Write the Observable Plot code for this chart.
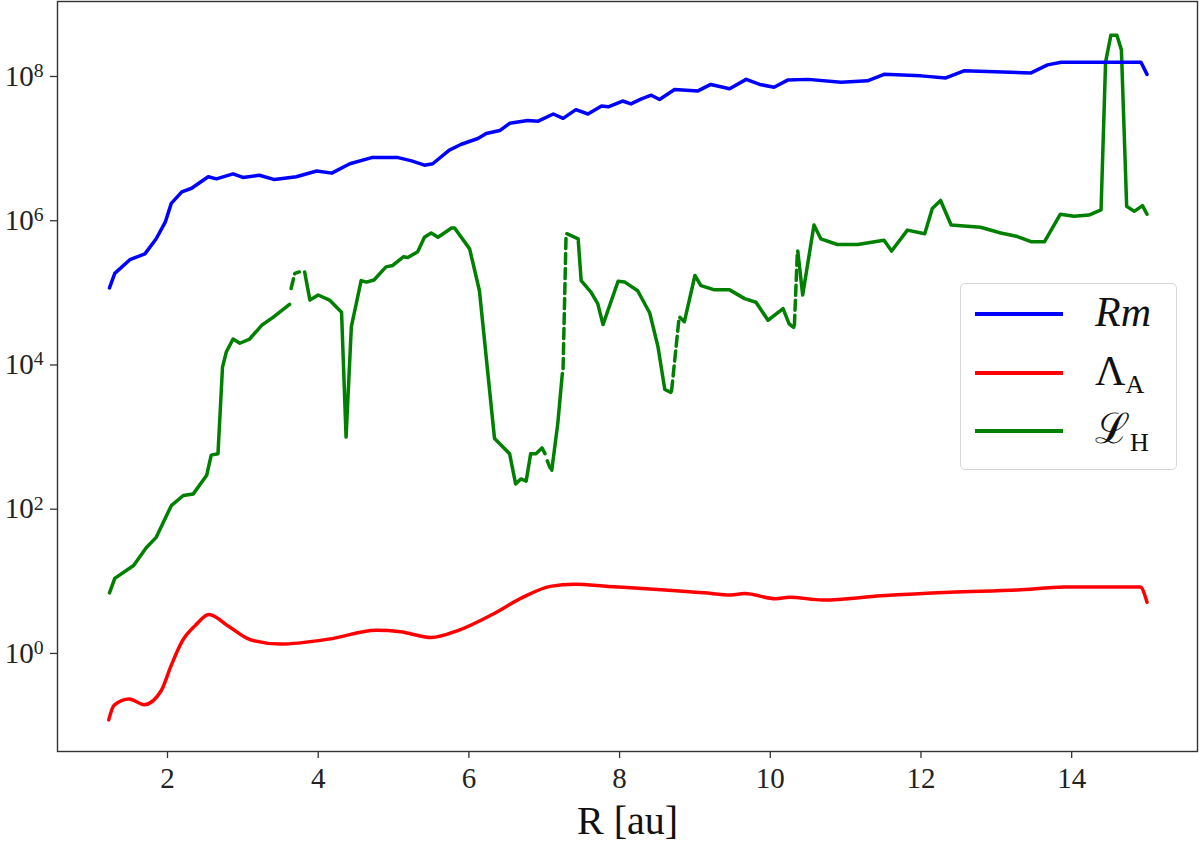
<!DOCTYPE html>
<html><head><meta charset="utf-8">
<script src="https://cdn.jsdelivr.net/npm/d3@7"></script>
<script src="https://cdn.jsdelivr.net/npm/@observablehq/plot@0.6"></script>
<style>
body{margin:0;background:#fff;}
#wrap{position:relative;width:1200px;height:845px;font-family:"Liberation Serif",serif;}
#legend{position:absolute;left:960px;top:283px;width:217px;height:187px;border:1px solid #d6d6d6;border-radius:5px;background:rgba(255,255,255,0.8);box-sizing:border-box;}
.row{position:absolute;left:0;width:100%;height:0;}
.sw{position:absolute;left:14px;width:88px;height:3.5px;top:-1.75px;}
.lab{position:absolute;left:134px;top:0;transform:translateY(-55%);font-size:42px;line-height:1;white-space:nowrap;color:#111;}
.lab sub{font-size:0.62em;vertical-align:baseline;position:relative;top:0.32em;}
</style></head>
<body><div id="wrap"><div id="chart"></div>
<div id="legend">
 <div class="row" style="top:30px"><div class="sw" style="background:#0000ff"></div><div class="lab"><i>Rm</i></div></div>
 <div class="row" style="top:89px"><div class="sw" style="background:#ff0000"></div><div class="lab">Λ<sub>A</sub></div></div>
 <div class="row" style="top:147px"><div class="sw" style="background:#008000"></div><div class="lab">ℒ<sub>H</sub></div></div>
</div></div>
<script>
// Rm
const rmR = [1.23,1.30,1.50,1.70,1.85,1.97,2.05,2.19,2.32,2.54,2.65,2.87,3.00,3.22,3.42,3.71,3.98,4.18,4.42,4.71,5.06,5.24,5.41,5.52,5.74,5.90,6.12,6.23,6.41,6.54,6.78,6.92,7.12,7.25,7.42,7.58,7.76,7.85,8.04,8.15,8.29,8.42,8.53,8.73,9.04,9.21,9.46,9.68,9.86,10.05,10.23,10.50,10.94,11.29,11.51,12.0,12.33,12.57,13.46,13.68,13.86,14.92,15.0];
const rmV = [1.17e5,1.86e5,2.88e5,3.47e5,5.62e5,9.55e5,1.74e6,2.51e6,2.82e6,4.07e6,3.80e6,4.47e6,3.98e6,4.27e6,3.72e6,4.07e6,4.90e6,4.57e6,6.17e6,7.50e6,7.50e6,6.76e6,5.89e6,6.17e6,9.55e6,1.15e7,1.38e7,1.62e7,1.78e7,2.24e7,2.45e7,2.40e7,3.02e7,2.63e7,3.47e7,3.02e7,3.89e7,3.80e7,4.57e7,4.17e7,4.90e7,5.50e7,4.79e7,6.61e7,6.31e7,7.76e7,6.76e7,9.12e7,7.76e7,7.08e7,8.91e7,9.12e7,8.32e7,8.71e7,1.07e8,1.02e8,9.55e7,1.20e8,1.12e8,1.45e8,1.58e8,1.58e8,1.07e8];
// Lambda_A
const laR = [1.22,1.29,1.49,1.69,1.92,2.04,2.19,2.37,2.55,2.82,3.10,3.50,4.14,4.77,5.09,5.50,5.86,6.31,6.72,7.08,7.40,7.85,8.30,8.75,9.12,9.48,9.66,10.07,10.25,10.70,11.47,12.38,13.28,13.91,14.91,15.0];
const laV = [0.120,0.191,0.234,0.195,0.309,0.646,1.45,2.45,3.47,2.34,1.55,1.35,1.58,2.09,2.00,1.66,2.09,3.47,6.03,8.51,9.12,8.51,7.94,7.41,6.92,6.46,6.76,5.75,6.03,5.50,6.31,7.08,7.59,8.32,8.32,5.13];
// L_H (magnitude) and its sign (negative parts drawn dashed)
const lhR = [1.23,1.30,1.55,1.72,1.85,2.05,2.21,2.34,2.52,2.58,2.67,2.73,2.78,2.87,2.96,3.09,3.25,3.40,3.62,3.64,3.69,3.75,3.82,3.89,4.00,4.15,4.31,4.37,4.44,4.57,4.64,4.74,4.90,4.99,5.13,5.19,5.32,5.41,5.50,5.59,5.77,5.81,6.01,6.14,6.34,6.54,6.62,6.69,6.76,6.82,6.89,6.97,7.01,7.04,7.08,7.10,7.18,7.24,7.25,7.29,7.30,7.45,7.49,7.62,7.71,7.78,7.98,8.07,8.24,8.40,8.51,8.60,8.68,8.69,8.79,8.80,8.86,9.00,9.08,9.26,9.46,9.66,9.81,9.97,10.17,10.25,10.31,10.32,10.36,10.365,10.43,10.58,10.67,10.89,11.16,11.51,11.61,11.82,12.05,12.15,12.26,12.40,12.79,13.06,13.28,13.46,13.64,13.85,14.03,14.23,14.39,14.45,14.52,14.60,14.66,14.73,14.83,14.94,15.0];
const lhV = [6.92,11.0,16.6,29.5,40.7,112,155,162,295,562,589,9.33e3,1.51e4,2.29e4,2.00e4,2.29e4,3.55e4,4.57e4,6.92e4,1.15e5,1.86e5,1.95e5,1.95e5,7.94e4,9.33e4,7.94e4,5.37e4,1.00e3,3.39e4,1.48e5,1.41e5,1.51e5,2.29e5,2.40e5,3.16e5,3.09e5,3.72e5,5.89e5,6.76e5,5.89e5,7.94e5,7.94e5,4.07e5,1.07e5,955,589,224,263,245,589,589,708,589,468,372,347,1.55e3,7.59e3,8.91e3,6.61e5,6.61e5,5.62e5,1.48e5,1.02e5,7.08e4,3.63e4,1.45e5,1.41e5,1.07e5,5.25e4,1.78e4,4.57e3,4.17e3,4.37e3,4.57e4,4.57e4,3.98e4,1.74e5,1.26e5,1.10e5,1.10e5,8.32e4,7.41e4,4.17e4,6.03e4,3.72e4,3.31e4,3.55e4,3.80e5,3.80e5,9.33e4,8.71e5,5.62e5,4.68e5,4.68e5,5.37e5,3.80e5,7.41e5,6.61e5,1.48e6,1.91e6,8.71e5,8.13e5,6.76e5,6.03e5,5.13e5,5.13e5,1.23e6,1.15e6,1.20e6,1.41e6,1.58e8,3.72e8,3.72e8,2.34e8,1.58e6,1.35e6,1.62e6,1.23e6];
const lhSign = [1,1,1,1,1,1,1,1,1,1,1,1,1,1,1,1,1,1,1,-1,-1,-1,1,1,1,1,1,1,1,1,1,1,1,1,1,1,1,1,1,1,1,1,1,1,1,1,1,1,1,1,1,1,1,-1,-1,1,1,1,-1,-1,1,1,1,1,1,1,1,1,1,1,1,1,1,-1,-1,1,1,1,1,1,1,1,1,1,1,1,1,-1,-1,1,1,1,1,1,1,1,1,1,1,1,1,1,1,1,1,1,1,1,1,1,1,1,1,1,1,1,1,1,1];
const xTicks = [2,4,6,8,10,12,14];
const yTicks = [1,1e2,1e4,1e6,1e8];

const rmRows = rmR.map((r,i)=>({r, v:rmV[i]}));
const laRows = laR.map((r,i)=>({r, v:laV[i]}));
// runs of same-sign consecutive points (matplotlib-like masking)
function runs(sign){
  const out=[]; let id=0;
  for (let i=0;i<lhR.length;i++){
    if (lhSign[i]===sign){
      const linked = i>0 && lhSign[i-1]===sign;
      if (!linked) id++;
      out.push({r:lhR[i], v:lhV[i], z:id});
    }
  }
  return out;
}
const solidG = runs(1), dashG = runs(-1);

const font = '"Liberation Serif", serif';
const chart = Plot.plot({
  width: 1200, height: 845,
  marginLeft: 57, marginRight: 3, marginTop: 1, marginBottom: 94,
  style: {fontFamily: font, fontSize: "29px", background: "#fff", color: "#222"},
  x: {domain: [0.54, 15.67]},
  y: {type: "log", domain: [0.0437, 1.096e9]},
  marks: [
    Plot.axisX({ticks: xTicks, tickSize: 7, tickPadding: 9, label: null, fontSize: 29, stroke: "#333", strokeWidth: 1.3}),
    Plot.axisY({ticks: yTicks, tickSize: 7, tickPadding: 7, label: null, fontSize: 29, stroke: "#333", strokeWidth: 1.3,
      tickFormat: d => `10^${Math.round(Math.log10(d))}`}),
    Plot.line(laRows, {x: "r", y: "v", stroke: "#ff0000", strokeWidth: 3.5, curve: "monotone-x"}),
    Plot.line(solidG, {x: "r", y: "v", z: "z", stroke: "#008000", strokeWidth: 3.5}),
    Plot.line(dashG, {x: "r", y: "v", z: "z", stroke: "#008000", strokeWidth: 3.5, strokeDasharray: "10,5"}),
    Plot.line(rmRows, {x: "r", y: "v", stroke: "#0000ff", strokeWidth: 3.5}),
    Plot.frame({stroke: "#333", strokeWidth: 1.4}),
    Plot.text(["R [au]"], {text: d => d, frameAnchor: "bottom", dy: 82, fontSize: 40, fill: "#111"})
  ]
});
d3.select(chart).selectAll('g[aria-label="y-axis tick label"] text').each(function(){
  const t = this.textContent; const parts = t.split("^");
  if (parts.length === 2) {
    const s = d3.select(this); s.text(null);
    s.append("tspan").text(parts[0]);
    s.append("tspan").attr("dy", "-0.45em").attr("font-size", "0.68em").text(parts[1]);
  }
});
document.getElementById("chart").appendChild(chart);
</script>
</body></html>
